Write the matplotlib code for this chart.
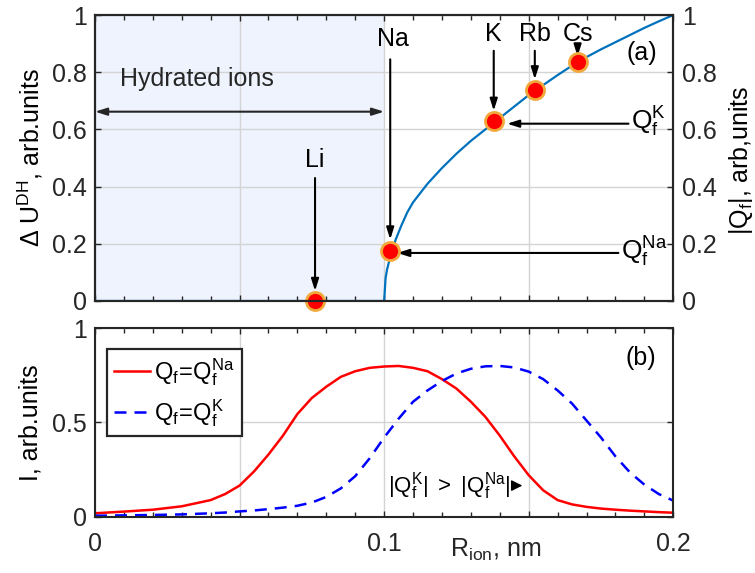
import matplotlib
matplotlib.use('Agg')
import matplotlib.pyplot as plt

plt.rcParams['font.family'] = ['Liberation Sans', 'DejaVu Sans']
plt.rcParams['mathtext.fontset'] = 'custom'
plt.rcParams['mathtext.rm'] = 'Liberation Sans'
plt.rcParams['mathtext.it'] = 'Liberation Sans:italic'
plt.rcParams['mathtext.bf'] = 'Liberation Sans:bold'

# --- datos ---
# panel (a): |Q_f| / Delta U^DH vs R_ion
r_q = [0.0, 0.100, 0.1005, 0.101, 0.102, 0.104, 0.106, 0.108, 0.110, 0.115,
       0.120, 0.125, 0.130, 0.135, 0.140, 0.145, 0.150, 0.155, 0.160, 0.165,
       0.170, 0.175, 0.180, 0.185, 0.190, 0.195, 0.200]
q_f = [0.0, 0.0, 0.08, 0.11, 0.15, 0.215, 0.265, 0.31, 0.345, 0.41,
       0.465, 0.515, 0.56, 0.60, 0.64, 0.68, 0.72, 0.755, 0.79, 0.823,
       0.853, 0.88, 0.905, 0.93, 0.955, 0.978, 1.0]

iones = ['Li', 'Na', 'K', 'Rb', 'Cs']
r_ion = [0.0761, 0.1021, 0.1379, 0.1521, 0.1669]
q_ion = [0.0, 0.175, 0.628, 0.738, 0.837]

# panel (b): intensidad
r_i = [0.0, 0.01, 0.02, 0.03, 0.04, 0.045, 0.05, 0.055, 0.06, 0.065, 0.07,
       0.075, 0.08, 0.085, 0.09, 0.095, 0.1, 0.105, 0.11, 0.115, 0.12, 0.125,
       0.13, 0.135, 0.14, 0.145, 0.15, 0.155, 0.16, 0.165, 0.17, 0.175, 0.18,
       0.185, 0.19, 0.195, 0.2]
i_na = [0.018, 0.027, 0.037, 0.055, 0.088, 0.12, 0.165, 0.24, 0.33, 0.43, 0.545,
        0.63, 0.69, 0.742, 0.772, 0.79, 0.797, 0.80, 0.79, 0.772, 0.73, 0.68,
        0.61, 0.53, 0.43, 0.32, 0.22, 0.14, 0.088, 0.065, 0.052, 0.043, 0.037,
        0.032, 0.028, 0.024, 0.021]
i_k = [0.005, 0.007, 0.009, 0.012, 0.018, 0.022, 0.028, 0.033, 0.04, 0.048, 0.058,
       0.075, 0.105, 0.15, 0.215, 0.31, 0.42, 0.52, 0.61, 0.67, 0.72, 0.76,
       0.785, 0.798, 0.80, 0.792, 0.77, 0.73, 0.67, 0.60, 0.51, 0.42, 0.32,
       0.235, 0.17, 0.12, 0.085]

x_major = [0.0, 0.05, 0.1, 0.15, 0.2]
x_major_lbl = ['0', '', '0.1', '', '0.2']
x_minor = [i / 100 for i in range(21)]
ya_ticks = [0.0, 0.2, 0.4, 0.6, 0.8, 1.0]
ya_lbl = ['0', '0.2', '0.4', '0.6', '0.8', '1']
yb_ticks = [0.0, 0.5, 1.0]
yb_lbl = ['0', '0.5', '1']

# --- estilo ---
C_EJE = '#262626'
C_GRID = '#d4d4d4'
FS = 18
flecha = dict(arrowstyle='-|>,head_length=0.7,head_width=0.22', color='black',
              lw=1.5, shrinkA=0, shrinkB=0)

fig = plt.figure(figsize=(7.55, 5.73), dpi=100)
ax1 = fig.add_axes([0.1258, 0.4747, 0.766, 0.4991])
ax2 = fig.add_axes([0.1258, 0.0983, 0.766, 0.3288])


def estilo(ax):
    ax.set_xlim(0, 0.2)
    ax.set_xticks(x_major, x_major_lbl)
    ax.set_xticks(x_minor, minor=True)
    ax.grid(True, which='major', color=C_GRID, lw=1.0)
    for s in ax.spines.values():
        s.set_color(C_EJE)
        s.set_linewidth(1.5)
        s.set_zorder(6)
    ax.tick_params(which='both', direction='in', top=True, right=True,
                   color=C_EJE, labelsize=FS, labelcolor=C_EJE)
    ax.tick_params(which='major', length=4.5, width=1.0, pad=6)
    ax.tick_params(which='minor', length=3.5, width=1.0)


# ---------- panel (a) ----------
estilo(ax1)
ax1.set_ylim(0, 1)
ax1.set_yticks(ya_ticks, ya_lbl)
ax1.tick_params(labelbottom=False, right=False)
ax1.axvspan(0, 0.1, color='#eef3fd', zorder=0, lw=0)
for l in ax1.get_xgridlines() + ax1.get_ygridlines():
    l.set_zorder(1)

ax1.plot(r_q, q_f, color='#0072BD', lw=1.6, zorder=3)
ax1.plot(r_ion, q_ion, 'o', ms=13, mfc='#ff0000', mec='#f2a93b', mew=2,
         zorder=5, clip_on=False)

ax1.text(0.0087, 0.775, 'Hydrated ions', fontsize=18, color=C_EJE, va='center')
ax1.annotate('', xy=(0.0, 0.662), xytext=(0.1, 0.662),
             arrowprops=dict(arrowstyle='<|-|>,head_length=0.7,head_width=0.22',
                             color=C_EJE, lw=1.5, shrinkA=0, shrinkB=0))

# etiquetas de iones con flechas verticales
etiq_y = [0.493, 0.915, 0.933, 0.935, 0.935]
inicio_y = [0.43, 0.845, 0.875, 0.875, 0.895]
fin_y = [0.035, 0.215, 0.665, 0.775, 0.855]
for nombre, rx, ty, y0, y1 in zip(iones, r_ion, etiq_y, inicio_y, fin_y):
    dx = 0.001 if nombre == 'Na' else 0.0
    ax1.text(rx + dx, ty, nombre, fontsize=FS, ha='center', va='center')
    ax1.annotate('', xy=(rx, y1), xytext=(rx, y0), arrowprops=flecha, zorder=4)

ax1.text(0.1855, 0.625, r'$\mathrm{Q_f^K}$', fontsize=19, ha='left', va='center')
ax1.annotate('', xy=(0.1425, 0.62), xytext=(0.1845, 0.62), arrowprops=flecha)
ax1.text(0.182, 0.17, r'$\mathrm{Q_f^{Na}}$', fontsize=19, ha='left', va='center')
ax1.annotate('', xy=(0.1045, 0.168), xytext=(0.181, 0.168), arrowprops=flecha)

ax1.text(0.189, 0.866, '(a)', fontsize=18, ha='center', va='center')
ax1.set_ylabel(r'Δ U$^{\mathrm{DH}}$, arb.units', fontsize=FS)
ax1.yaxis.set_label_coords(-0.087, 0.5)

ax1b = ax1.twinx()
ax1b.set_ylim(0, 1)
ax1b.set_yticks(ya_ticks, ya_lbl)
for s in ax1b.spines.values():
    s.set_color(C_EJE)
    s.set_linewidth(1.5)
ax1b.tick_params(direction='in', length=4.5, width=1.0, pad=6, color=C_EJE,
                 labelsize=FS, labelcolor=C_EJE)
ax1b.set_ylabel(r'|Q$_{\mathrm{f}}$|, arb,units', fontsize=FS)
ax1b.yaxis.set_label_coords(1.093, 0.49)

# ---------- panel (b) ----------
estilo(ax2)
ax2.set_ylim(0, 1)
ax2.set_yticks(yb_ticks, yb_lbl)
ax2.tick_params(axis='x', which='major', pad=11)

ax2.plot(r_i, i_na, color='#ff0000', lw=1.8, label=r'$\mathrm{Q_f\!=\!Q_f^{Na}}$')
ax2.plot(r_i, i_k, color='#0000ff', lw=1.8, dashes=(4.8, 3.2),
         label=r'$\mathrm{Q_f\!=\!Q_f^{K}}$')

leg = ax2.legend(loc='upper left', bbox_to_anchor=(0.02, 0.89), borderaxespad=0,
                 fontsize=17, fancybox=False, framealpha=1, edgecolor=C_EJE,
                 handlelength=1.55, handletextpad=0.15, borderpad=0.3,
                 labelspacing=0.4)
leg.get_frame().set_linewidth(1.6)

ax2.annotate(r'$\mathrm{|Q_f^K|\ >\ |Q_f^{Na}|}$', xy=(0.1478, 0.165),
             xytext=(0.1012, 0.165), fontsize=16, va='center', ha='left',
             arrowprops=dict(arrowstyle='-|>,head_length=0.6,head_width=0.3',
                             color='black', lw=1.0, shrinkA=0, shrinkB=0,
                             mutation_scale=11))
ax2.text(0.1886, 0.84, '(b)', fontsize=18, ha='center', va='center')

ax2.set_ylabel('I, arb.units', fontsize=FS)
ax2.yaxis.set_label_coords(-0.09, 0.5)
ax2.set_xlabel(r'R$_{\mathrm{ion}}$, nm', fontsize=FS, color=C_EJE)
ax2.xaxis.set_label_coords(0.692, -0.105)

fig.savefig('out.png', dpi=100)
